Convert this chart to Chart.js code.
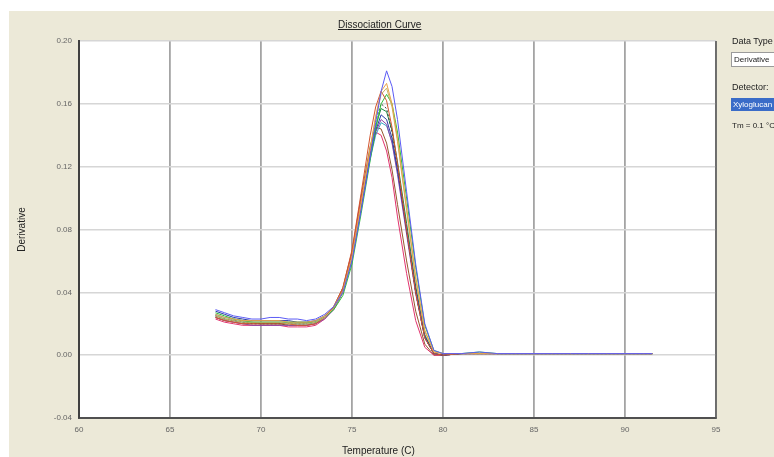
<!DOCTYPE html>
<html>
<head>
<meta charset="utf-8">
<script src="https://cdn.jsdelivr.net/npm/chart.js@4.4.1/dist/chart.umd.min.js"></script>
<style>
  html,body{margin:0;padding:0;background:#ffffff;}
  #wrap{position:relative;width:774px;height:457px;overflow:hidden;background:#ffffff;font-family:"Liberation Sans",Arial,sans-serif;}
  #beige{position:absolute;left:9px;top:11px;right:0;bottom:0;background:#ece9d8;}
  #c{position:absolute;left:0;top:0;}
  .t{position:absolute;white-space:nowrap;color:#222;}
  #title{left:338px;top:19px;font-size:10px;text-decoration:underline;}
  #xtitle{left:342px;top:445px;font-size:10px;}
  #dt{left:732px;top:36px;font-size:9px;}
  #dtbox{position:absolute;left:731px;top:52px;width:60px;height:13px;background:#fff;border:1px solid #9a9a9a;font-size:8px;line-height:13px;padding-left:2px;color:#222;white-space:nowrap;}
  #det{left:732px;top:82px;font-size:9px;}
  #detbox{position:absolute;left:731px;top:98px;width:60px;height:13px;background:#3a6cc8;font-size:8px;line-height:13px;padding-left:2px;color:#fff;white-space:nowrap;}
  #tm{left:732px;top:121px;font-size:8px;}
</style>
</head>
<body>
<div id="wrap">
  <div id="beige"></div>
  <canvas id="c" width="774" height="457"></canvas>
  <div class="t" id="title">Dissociation Curve</div>
  <div class="t" id="xtitle">Temperature (C)</div>
  <div class="t" id="dt">Data Type</div>
  <div id="dtbox">Derivative</div>
  <div class="t" id="det">Detector:</div>
  <div id="detbox">Xyloglucan</div>
  <div class="t" id="tm">Tm = 0.1 °C</div>
</div>
<script>
// ---- data ----
const temps = [67.5,68,68.5,69,69.5,70,70.5,71,71.5,72,72.5,73,73.5,74,74.5,75,75.5,76,76.3,76.6,76.9,77.2,77.5,78,78.5,79,79.5,80,81,82,83,84,85,86,87,88,89,90,91,91.5];

const wellBlue    = [0.029,0.027,0.025,0.024,0.023,0.023,0.024,0.024,0.023,0.023,0.022,0.023,0.026,0.031,0.040,0.060,0.092,0.126,0.148,0.168,0.181,0.171,0.150,0.104,0.058,0.020,0.003,0.001,0.001,0.002,0.001,0.001,0.001,0.001,0.001,0.001,0.001,0.001,0.001,0.001];
const wellOrange  = [0.026,0.024,0.023,0.022,0.022,0.022,0.022,0.022,0.021,0.021,0.021,0.022,0.025,0.031,0.041,0.063,0.097,0.132,0.152,0.168,0.173,0.160,0.138,0.094,0.050,0.016,0.002,0.001,0.001,0.001,0.001,0.001,0.001,0.001,0.001,0.001,0.001,0.001,0.001,0.001];
const wellKhaki   = [0.025,0.023,0.022,0.021,0.021,0.021,0.021,0.021,0.020,0.020,0.020,0.021,0.024,0.030,0.040,0.062,0.096,0.131,0.151,0.166,0.170,0.158,0.136,0.092,0.048,0.015,0.002,0.001,0.001,0.001,0.001,0.001,0.001,0.001,0.001,0.001,0.001,0.001,0.001,0.001];
const wellRed     = [0.024,0.022,0.021,0.020,0.020,0.020,0.020,0.020,0.020,0.019,0.019,0.020,0.024,0.031,0.043,0.067,0.103,0.140,0.158,0.168,0.162,0.145,0.122,0.080,0.040,0.011,0.001,0.000,0.001,0.001,0.001,0.001,0.001,0.001,0.001,0.001,0.001,0.001,0.001,0.001];
const wellGreen   = [0.027,0.025,0.023,0.022,0.021,0.021,0.021,0.021,0.021,0.021,0.021,0.021,0.024,0.029,0.038,0.058,0.090,0.124,0.144,0.160,0.166,0.160,0.142,0.100,0.056,0.019,0.003,0.001,0.001,0.002,0.001,0.001,0.001,0.001,0.001,0.001,0.001,0.001,0.001,0.001];
const wellDark    = [0.025,0.023,0.022,0.021,0.020,0.020,0.020,0.020,0.020,0.020,0.020,0.021,0.024,0.030,0.041,0.063,0.097,0.131,0.149,0.160,0.157,0.142,0.121,0.080,0.040,0.011,0.001,0.000,0.001,0.001,0.001,0.001,0.001,0.001,0.001,0.001,0.001,0.001,0.001,0.001];
const wellNavy    = [0.028,0.026,0.024,0.023,0.022,0.022,0.022,0.022,0.022,0.021,0.021,0.022,0.025,0.030,0.040,0.061,0.093,0.126,0.143,0.153,0.150,0.138,0.118,0.080,0.042,0.012,0.001,0.000,0.001,0.001,0.001,0.001,0.001,0.001,0.001,0.001,0.001,0.001,0.001,0.001];
const wellPurple  = [0.024,0.022,0.021,0.020,0.019,0.019,0.019,0.019,0.019,0.019,0.019,0.020,0.023,0.029,0.040,0.062,0.095,0.127,0.142,0.150,0.147,0.135,0.115,0.077,0.039,0.011,0.001,0.000,0.001,0.001,0.001,0.001,0.001,0.001,0.001,0.001,0.001,0.001,0.001,0.001];
const wellCyan    = [0.026,0.024,0.023,0.022,0.021,0.021,0.021,0.021,0.021,0.020,0.020,0.021,0.024,0.030,0.041,0.062,0.094,0.125,0.140,0.148,0.146,0.136,0.117,0.079,0.040,0.011,0.001,0.000,0.001,0.001,0.001,0.001,0.001,0.001,0.001,0.001,0.001,0.001,0.001,0.001];
const wellMagenta = [0.023,0.021,0.020,0.019,0.019,0.019,0.019,0.019,0.018,0.018,0.018,0.019,0.023,0.030,0.042,0.065,0.099,0.130,0.142,0.140,0.130,0.113,0.088,0.052,0.022,0.005,0.000,0.000,0.001,0.001,0.001,0.001,0.001,0.001,0.001,0.001,0.001,0.001,0.001,0.001];
const wellDkGreen = [0.025,0.023,0.022,0.021,0.021,0.020,0.020,0.020,0.020,0.020,0.020,0.021,0.024,0.030,0.040,0.062,0.095,0.128,0.146,0.157,0.155,0.143,0.123,0.084,0.044,0.013,0.001,0.000,0.001,0.001,0.001,0.001,0.001,0.001,0.001,0.001,0.001,0.001,0.001,0.001];
const wellBrown   = [0.024,0.022,0.021,0.020,0.020,0.020,0.020,0.020,0.019,0.019,0.019,0.020,0.024,0.031,0.043,0.066,0.101,0.133,0.145,0.144,0.135,0.118,0.096,0.060,0.028,0.007,0.000,0.000,0.001,0.001,0.001,0.001,0.001,0.001,0.001,0.001,0.001,0.001,0.001,0.001];

const xTicks = [60,65,70,75,80,85,90,95];
const yTicks = ["-0.04","0.00","0.04","0.08","0.12","0.16","0.20"];

// ---- chart ----
const series = [
  [wellBlue,'#5b5bf5',[]],
  [wellOrange,'#e7a24a',[]],
  [wellKhaki,'#c9b464',[]],
  [wellRed,'#d4552e',[]],
  [wellGreen,'#2fbf3a',[]],
  [wellDark,'#3a3a3a',[2,2]],
  [wellNavy,'#2a3aa8',[]],
  [wellPurple,'#8a45a8',[]],
  [wellCyan,'#3aa6c4',[]],
  [wellMagenta,'#e2336e',[]],
  [wellDkGreen,'#1f8a44',[]],
  [wellBrown,'#95572f',[]]
];
const datasets = series.map(s => ({
  data: temps.map((t,i) => ({x:t, y:s[0][i]})),
  borderColor: s[1], borderWidth: 1, borderDash: s[2],
  pointRadius: 0, tension: 0, fill: false
}));

const plotBg = {
  id:'plotBg',
  beforeDraw(chart){
    const {ctx, chartArea:a} = chart;
    ctx.save(); ctx.fillStyle='#ffffff';
    ctx.fillRect(a.left, a.top, a.right-a.left, a.bottom-a.top);
    ctx.restore();
  },
  afterDatasetsDraw(chart){
    const {ctx, chartArea:a} = chart;
    ctx.save(); ctx.strokeStyle='#5a5a5a'; ctx.lineWidth=1.5;
    ctx.beginPath(); ctx.moveTo(a.right, a.top); ctx.lineTo(a.right, a.bottom); ctx.stroke();
    ctx.restore();
  }
};

new Chart(document.getElementById('c'), {
  type:'line',
  data:{datasets},
  plugins:[plotBg],
  options:{
    responsive:false, animation:false, devicePixelRatio:1,
    layout:{padding:{left:0, top:41, right:58, bottom:0}},
    plugins:{legend:{display:false}, tooltip:{enabled:false}},
    scales:{
      x:{
        type:'linear', min:60, max:95,
        afterBuildTicks(s){ s.ticks = xTicks.map(v=>({value:v})); },
        afterFit(s){ s.height = 39; },
        ticks:{font:{family:'"Liberation Sans", Arial', size:8}, color:'#666', padding:7, maxRotation:0},
        grid:{color:'#a4a4a4', lineWidth:1.8, drawTicks:false},
        border:{color:'#505050', width:2}
      },
      y:{
        min:-0.04, max:0.20,
        afterBuildTicks(s){ s.ticks = yTicks.map(v=>({value:parseFloat(v)})); },
        afterFit(s){ s.width = 79; },
        ticks:{font:{family:'"Liberation Sans", Arial', size:8}, color:'#666', padding:7,
               callback:(v)=> yTicks.find(t=>Math.abs(parseFloat(t)-v)<1e-9) || ''},
        grid:{color:'#d6d6d6', lineWidth:1.5, drawTicks:false},
        border:{color:'#404040', width:2},
        title:{display:true, text:'Derivative', font:{family:'"Liberation Sans", Arial', size:10}, color:'#222', padding:{top:16, bottom:0}}
      }
    }
  }
});
</script>
</body>
</html>
